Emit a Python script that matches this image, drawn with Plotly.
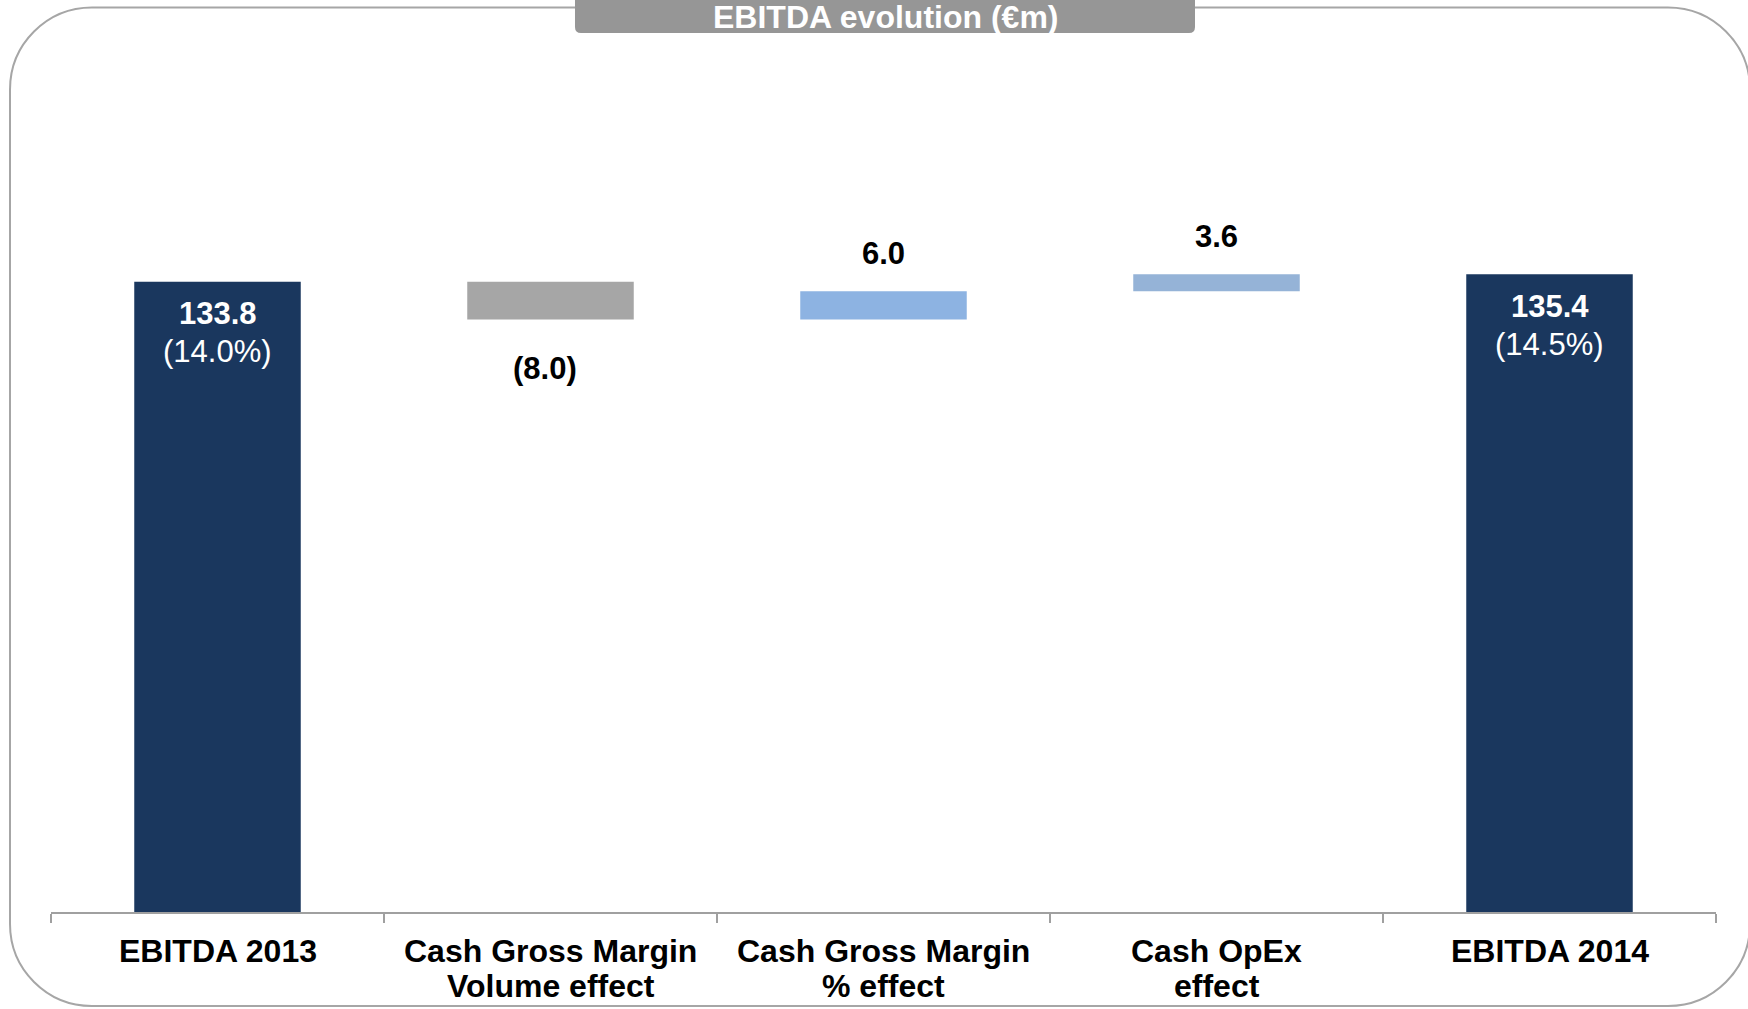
import plotly.graph_objects as go

# ---------------- data ----------------
categories = ["EBITDA 2013", "Cash Gross Margin Volume effect", "Cash Gross Margin % effect",
              "Cash OpEx effect", "EBITDA 2014"]
category_lines = [["EBITDA 2013"], ["Cash Gross Margin", "Volume effect"],
                  ["Cash Gross Margin", "% effect"], ["Cash OpEx", "effect"], ["EBITDA 2014"]]
values = [133.8, -8.0, 6.0, 3.6, 135.4]
measures = ["total", "relative", "relative", "relative", "total"]
value_labels = ["133.8", "(8.0)", "6.0", "3.6", "135.4"]
margin_labels = ["(14.0%)", "", "", "", "(14.5%)"]
bar_colors = ["#1A375E", "#A6A6A6", "#8DB3E2", "#95B3D7", "#1A375E"]
title_text = "EBITDA evolution (€m)"

# ---------------- layout geometry ----------------
W, H = 1748, 1009
ML, MR, MT, MB = 51, 32, 60, 97
PW, PH = W - ML - MR, H - MT - MB
Y_MAX = 180.9

def px_x(p):
    return (p - ML) / PW

def px_y(p):
    return (H - MB - p) / PH

# waterfall bases
bases, heights = [], []
running = 0.0
for v, m in zip(values, measures):
    if m == "total":
        bases.append(0.0)
        heights.append(v)
        running = v
    else:
        bases.append(running)
        heights.append(v)
        running += v

FONT = "Arial, 'Liberation Sans', sans-serif"

fig = go.Figure()
fig.add_trace(go.Bar(
    x=categories, y=heights, base=bases, width=0.5,
    marker=dict(color=bar_colors, line=dict(width=0)),
    hoverinfo="skip", showlegend=False,
))

annotations = []
for i, (cat, v, m) in enumerate(zip(categories, values, measures)):
    if m == "total":
        annotations.append(dict(
            x=cat, y=v, xref="x", yref="y", yanchor="middle", yshift=-32,
            text=f"<b>{value_labels[i]}</b>", showarrow=False,
            font=dict(family=FONT, size=31, color="white"),
        ))
        annotations.append(dict(
            x=cat, y=v, xref="x", yref="y", yanchor="middle", yshift=-70,
            text=margin_labels[i], showarrow=False,
            font=dict(family=FONT, size=31, color="white"),
        ))
    else:
        top = bases[i] + max(v, 0)
        bot = bases[i] + min(v, 0)
        if v >= 0:
            annotations.append(dict(
                x=cat, y=top, xref="x", yref="y", yanchor="middle", yshift=38,
                text=f"<b>{value_labels[i]}</b>", showarrow=False,
                font=dict(family=FONT, size=31, color="black"),
            ))
        else:
            annotations.append(dict(
                x=cat, y=bot, xref="x", yref="y", yanchor="middle", yshift=-49, xshift=-6,
                text=f"<b>{value_labels[i]}</b>", showarrow=False,
                font=dict(family=FONT, size=31, color="black"),
            ))

# category labels (one annotation per line for tight line spacing)
line_centers_px = [951, 986]
for cat, lines in zip(categories, category_lines):
    for j, ln in enumerate(lines):
        annotations.append(dict(
            x=cat, y=px_y(line_centers_px[j]), xref="x", yref="paper",
            yanchor="middle", xanchor="center", text=f"<b>{ln}</b>", showarrow=False,
            font=dict(family=FONT, size=32, color="black"),
        ))

# title text
annotations.append(dict(
    x=px_x(885), y=px_y(17), xref="paper", yref="paper", yanchor="middle", xanchor="center",
    text=f"<b>{title_text}</b>", showarrow=False,
    font=dict(family=FONT, size=32, color="white"),
))

# rounded border path
L, T, R, B, r = 10, 7.5, 1750, 1006, 82
def P(x, y):
    return f"{px_x(x):.5f},{px_y(y):.5f}"
k = 0.4477  # cubic approximation offset factor
border_path = (
    f"M {P(L + r, T)} L {P(R - r, T)} "
    f"C {P(R - r * k, T)} {P(R, T + r * k)} {P(R, T + r)} "
    f"L {P(R, B - r)} "
    f"C {P(R, B - r * k)} {P(R - r * k, B)} {P(R - r, B)} "
    f"L {P(L + r, B)} "
    f"C {P(L + r * k, B)} {P(L, B - r * k)} {P(L, B - r)} "
    f"L {P(L, T + r)} "
    f"C {P(L, T + r * k)} {P(L + r * k, T)} {P(L + r, T)} Z"
)

# title box path (rounded bottom corners)
bx0, bx1, by0, by1, br = 575, 1195, -10, 33, 6
title_path = (
    f"M {P(bx0, by0)} L {P(bx1, by0)} L {P(bx1, by1 - br)} "
    f"Q {P(bx1, by1)} {P(bx1 - br, by1)} L {P(bx0 + br, by1)} "
    f"Q {P(bx0, by1)} {P(bx0, by1 - br)} Z"
)

shapes = [
    dict(type="path", path=border_path, xref="paper", yref="paper",
         line=dict(color="#A6A6A6", width=2), fillcolor="rgba(0,0,0,0)", layer="below"),
    dict(type="path", path=title_path, xref="paper", yref="paper",
         line=dict(width=0), fillcolor="#969696", layer="above"),
]

fig.update_layout(
    width=W, height=H,
    margin=dict(l=ML, r=MR, t=MT, b=MB, pad=0, autoexpand=False),
    paper_bgcolor="white", plot_bgcolor="white",
    xaxis=dict(
        type="category", range=[-0.5, 4.5], showgrid=False, zeroline=False,
        showline=True, linecolor="#A0A0A0", linewidth=2,
        ticks="outside", tickson="boundaries", ticklen=9, tickwidth=2, tickcolor="#A0A0A0",
        showticklabels=False, automargin=False,
    ),
    yaxis=dict(range=[0, Y_MAX], visible=False, showgrid=False, zeroline=False,
               automargin=False),
    annotations=annotations,
    shapes=shapes,
    font=dict(family=FONT),
)

fig.write_html("out.html")
